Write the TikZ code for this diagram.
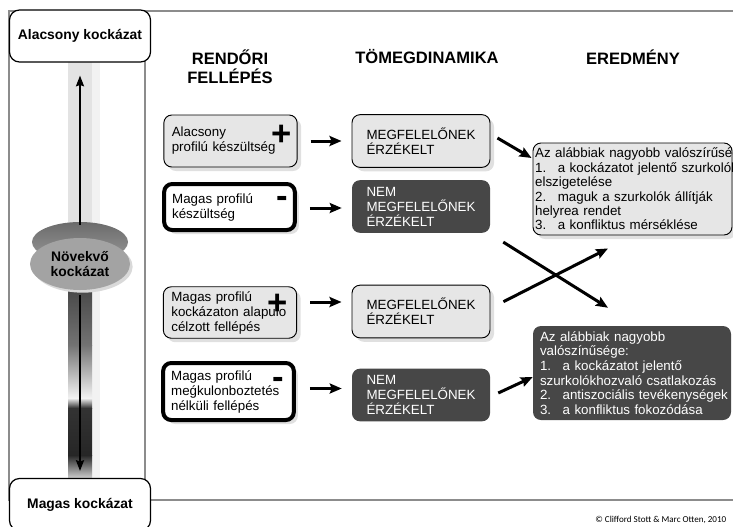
\documentclass[tikz,border=0pt]{standalone}
\usepackage{fontspec}
\setmainfont{Liberation Sans}
\newfontfamily\carlito{Carlito}
\usetikzlibrary{arrows.meta, shapes.geometric, shadows, positioning}
\definecolor{lg}{HTML}{E6E6E6}
\definecolor{dg}{HTML}{474747}
\definecolor{fr}{HTML}{8C8C8C}
\definecolor{bar}{HTML}{E3E3E3}
\definecolor{bar2}{HTML}{F2F2F2}
\definecolor{sh}{HTML}{E0E0E0}
\newcommand{\numitem}[1]{\makebox[17pt][l]{#1}}

\begin{document}
\begin{tikzpicture}[x=0.75pt, y=-0.75pt,
		body/.style={font=\fontsize{10}{11.25}\selectfont},
		head/.style={font=\fontsize{12.4}{14.25}\selectfont\bfseries, align=center},
		side/.style={draw=black, line width=0.9pt, fill=white, rounded corners=7.5pt, minimum width=105.75pt, minimum height=39pt, font=\fontsize{10.4}{11.25}\selectfont\bfseries},
		shad/.style={drop shadow={shadow xshift=3pt, shadow yshift=-3pt, fill=sh, opacity=1}},
		lbox/.style={body, shad, draw=black, line width=0.7pt, fill=lg, rounded corners=6pt, align=left},
		wbox/.style={body, shad, draw=black, line width=3pt, fill=white, rounded corners=6pt, align=left},
		dbox/.style={body, fill=dg, text=white, rounded corners=6pt, align=left},
		pol/.style={inner xsep=6pt, text width=88pt},
		dyn/.style={minimum width=103.5pt, minimum height=39.5pt},
		sign/.style={font=\fontsize{26}{26}\selectfont\bfseries, inner sep=0pt},
		arr/.style={line width=2.25pt, -{Stealth[length=9pt, width=7.5pt, inset=1.5pt]}},
		barr/.style={line width=1.5pt, -{Stealth[length=8pt, width=6pt, inset=1pt]}},
		frame/.style={draw=fr, line width=1.5pt}
	]
	\useasboundingbox (0,0) rectangle (733,526);
	\clip (0,0) rectangle (733,526);
	
	% frame and scale bar
	\draw[frame] (9,11) rectangle (780,500);
	\draw[frame] (145,11) -- (145,500);
	\fill[bar2] (68,62) rectangle (100,478);
	\fill[bar] (68,62) rectangle (92,478);
	\shade[top color=black!72, bottom color=black!55] (68,288) rectangle (92,345);
	\shade[top color=black!55, bottom color=black!5] (68,345) rectangle (92,398);
	\shade[top color=black!5, bottom color=black!80] (68,398) rectangle (92,408);
	\shade[top color=black!80, bottom color=black!85] (68,408) rectangle (92,455);
	\shade[top color=black!85, bottom color=black!20] (68,455) rectangle (92,478);
	
	\node[side] (low) at (80,36) {Alacsony kockázat};
	\node[side] (high) at (80,504.5) {Magas kockázat};
	
	\shade[top color=black!58, bottom color=black!40] (80,242) ellipse [x radius=36pt, y radius=15pt];
	\node[ellipse, fill=black!36, minimum width=75pt, minimum height=39pt, inner sep=0pt, align=center, font=\fontsize{10.4}{11.25}\selectfont\bfseries, drop shadow={shadow xshift=2pt, shadow yshift=-2pt, fill=black!15, opacity=1}] (disc) at (80,264) {Növekvő\\kockázat};
	
	\draw[barr] ([shift={(0,-13)}]disc.north) -- ([shift={(0,13)}]low.south);
	\draw[barr] ([shift={(0,5)}]disc.south) -- ([shift={(0,-7)}]high.north);
	
	% column heads
	\node[head] (hpol) at (230,67) {RENDŐRI\\FELLÉPÉS};
	\node[head] (hdyn) at (427,57) {TÖMEGDINAMIKA};
	\node[head] (hres) at (633,57) {EREDMÉNY};
	
	% police action
	\node[lbox, pol, minimum height=39pt] (pol1) at (230.5,141) {Alacsony\\profilú készültség};
	\node[wbox, pol, text width=86pt, minimum height=34.5pt] (pol2) at (229.5,207) {Magas profilú\\készültség};
	\node[lbox, pol, minimum height=38.25pt] (pol3) at (230,312.5) {Magas profilú\\kockázaton alapulo\\célzott fellépés};
	\node[wbox, pol, text width=86pt, minimum height=42.75pt] (pol4) at (228.5,391.5) {Magas profilú\\meǵkulonboztetés\\nélküli fellépés};
	
	\node[sign] (sg1) at (282,135) {+};
	\node[sign] (sg2) at (282,202) {-};
	\node[sign] (sg3) at (278,304) {+};
	\node[sign] (sg4) at (278,383) {-};
	
	% crowd dynamics
	\node[lbox, dyn] (dyn1) at (421,141) {MEGFELELŐNEK\\ÉRZÉKELT};
	\node[dbox, dyn] (dyn2) at (421,206.5) {NEM\\MEGFELELŐNEK\\ÉRZÉKELT};
	\node[lbox, dyn] (dyn3) at (421,311.5) {MEGFELELŐNEK\\ÉRZÉKELT};
	\node[dbox, dyn] (dyn4) at (421,395) {NEM\\MEGFELELŐNEK\\ÉRZÉKELT};
	
	% outcome
	\node[lbox, minimum width=149.25pt, minimum height=69pt, inner xsep=1.5pt, inner ysep=1pt, text width=146pt, font=\fontsize{10}{10.8}\selectfont] (res1) at (632.5,189) {\mbox{Az alábbiak nagyobb valószírűség}\\
		\numitem{1.}\mbox{a kockázatot jelentő szurkolók}\\
		elszigetelése\\
		\numitem{2.}\mbox{maguk a szurkolók állítják}\\
		helyrea rendet\\
		\numitem{3.}\mbox{a konfliktus mérséklése}};
	\node[dbox, minimum width=148.5pt, minimum height=70.5pt, inner xsep=5.25pt, inner ysep=1pt, text width=138pt, font=\fontsize{10}{10.95}\selectfont] (res2) at (632,373) {Az alábbiak nagyobb\\
		valószínűsége:\\
		\numitem{1.}\mbox{a kockázatot jelentő}\\
		\mbox{szurkolókhozvaló csatlakozás}\\
		\numitem{2.}\mbox{antiszociális tevékenységek}\\
		\numitem{3.}\mbox{a konfliktus fokozódása}};
	
	\draw[arr] ([shift={(13,0)}]pol1.east) -- ([shift={(-10,0)}]dyn1.west);
	\draw[arr] ([shift={(13,1)}]pol2.east) -- ([shift={(-10,1.5)}]dyn2.west);
	\draw[arr] ([shift={(13,-10.5)}]pol3.east) -- ([shift={(-10,-9.5)}]dyn3.west);
	\draw[arr] ([shift={(14,-3)}]pol4.east) -- ([shift={(-10,-6.5)}]dyn4.west);
	
	\draw[arr] ([shift={(7,-3)}]dyn1.east) -- ([shift={(-1,-31)}]res1.west);
	\draw[arr] ([shift={(13,9)}]dyn2.south east) -- ([shift={(-24,-18)}]res2.north);
	\draw[arr] ([shift={(13,17)}]dyn3.north east) -- ([shift={(-24.5,13)}]res1.south);
	\draw[arr] ([shift={(8,-2)}]dyn4.east) -- ([shift={(0,4)}]res2.west);
	
	\node[font=\carlito\fontsize{6.8}{8}\selectfont, anchor=base east] (copy) at (731,522) {© Clifford Stott \& Marc Otten, 2010};
\end{tikzpicture}
\end{document}
